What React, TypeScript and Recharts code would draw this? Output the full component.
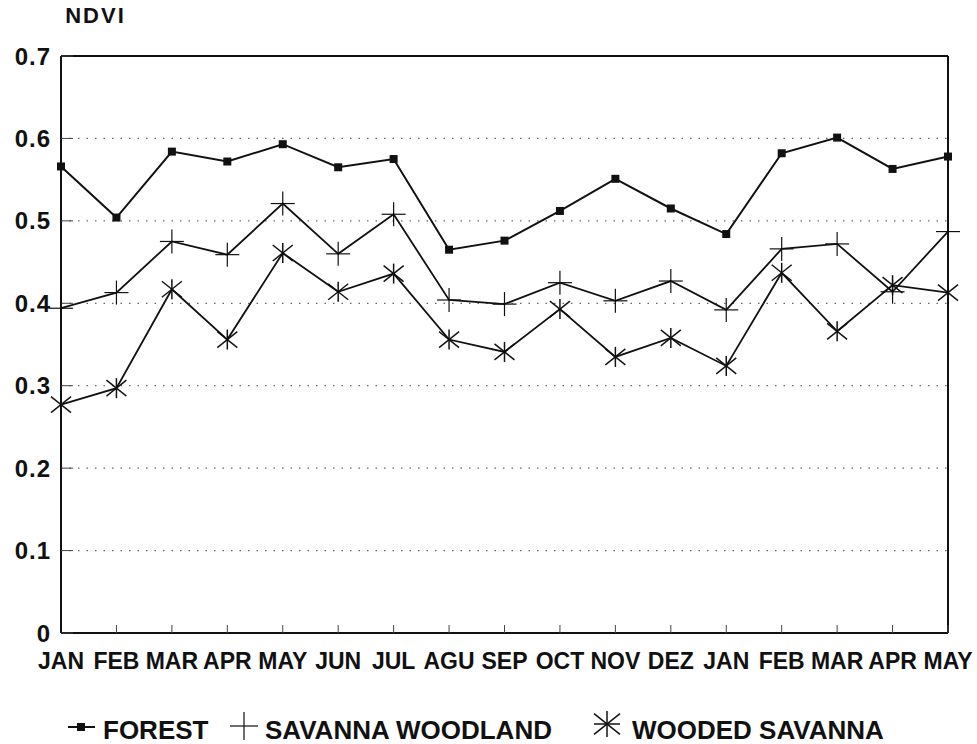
import React from 'react';
import { LineChart, Line, XAxis, YAxis, CartesianGrid, ReferenceLine, Legend, Label } from 'recharts';

const months = ['JAN', 'FEB', 'MAR', 'APR', 'MAY', 'JUN', 'JUL', 'AGU', 'SEP', 'OCT', 'NOV', 'DEZ', 'JAN', 'FEB', 'MAR', 'APR', 'MAY'];
const forest = [0.566, 0.504, 0.584, 0.572, 0.593, 0.565, 0.575, 0.465, 0.476, 0.512, 0.551, 0.515, 0.484, 0.582, 0.601, 0.563, 0.578];
const savannaWoodland = [0.394, 0.413, 0.475, 0.459, 0.521, 0.460, 0.508, 0.404, 0.399, 0.425, 0.403, 0.427, 0.392, 0.466, 0.472, 0.414, 0.487];
const woodedSavanna = [0.277, 0.297, 0.417, 0.356, 0.461, 0.414, 0.436, 0.356, 0.341, 0.393, 0.335, 0.358, 0.324, 0.437, 0.366, 0.422, 0.413];
const yTicks = [0, 0.1, 0.2, 0.3, 0.4, 0.5, 0.6, 0.7];
const seriesNames = ['FOREST', 'SAVANNA WOODLAND', 'WOODED SAVANNA'];
const yTitle = 'NDVI';

const data = months.map((m, i) => ({
  idx: i,
  month: m,
  forest: forest[i],
  savannaWoodland: savannaWoodland[i],
  woodedSavanna: woodedSavanna[i],
}));

const FONT = '"Liberation Sans", Arial, Helvetica, sans-serif';
const INK = '#111';

const SquareMark = ({ cx, cy, s = 8 }: any) => (
  <rect x={cx - s / 2} y={cy - s / 2} width={s} height={s} fill={INK} />
);
const PlusMark = ({ cx, cy, s = 12 }: any) => (
  <g stroke={INK} strokeWidth={1.2}>
    <line x1={cx - s} y1={cy} x2={cx + s} y2={cy} />
    <line x1={cx} y1={cy - s} x2={cx} y2={cy + s} />
  </g>
);
const StarMark = ({ cx, cy, s = 10 }: any) => (
  <g stroke={INK} strokeWidth={1.5}>
    <line x1={cx - s} y1={cy - s * 0.8} x2={cx + s} y2={cy + s * 0.8} />
    <line x1={cx - s} y1={cy + s * 0.8} x2={cx + s} y2={cy - s * 0.8} />
    <line x1={cx} y1={cy - s} x2={cx} y2={cy + s} />
  </g>
);

const legendText = { fontFamily: FONT, fontWeight: 'bold' as const, fontSize: 26, fill: INK };

const renderLegend = () => (
  <div style={{ width: 977, height: 70 }}>
    <svg width={977} height={70}>
      <g>
        <line x1={68} y1={53} x2={95} y2={53} stroke={INK} strokeWidth={2} />
        <SquareMark cx={81} cy={53} s={8} />
        <text x={103} y={65} style={legendText}>{seriesNames[0]}</text>
      </g>
      <g>
        <PlusMark cx={244} cy={52} s={14} />
        <text x={265} y={65} style={legendText}>{seriesNames[1]}</text>
      </g>
      <g>
        <StarMark cx={607} cy={50} s={13} />
        <line x1={594} y1={50} x2={620} y2={50} stroke={INK} strokeWidth={1.5} />
        <text x={632} y={65} style={legendText}>{seriesNames[2]}</text>
      </g>
    </svg>
  </div>
);

export default function App() {
  return (
    <div style={{ position: 'absolute', left: 0, top: 0, width: 977, height: 744, background: '#fff' }}>
      <LineChart width={977} height={744} data={data} margin={{ top: 56, right: 29, left: 0, bottom: 1 }}>
        <CartesianGrid vertical={false} stroke="#666" strokeWidth={1.2} strokeDasharray="1.5 7" />
        <XAxis
          dataKey="idx"
          type="category"
          interval={0}
          height={40}
          tickFormatter={(i: number) => months[i]}
          tickSize={-8}
          tickMargin={28}
          tickLine={{ stroke: '#444', strokeWidth: 1 }}
          axisLine={{ stroke: INK, strokeWidth: 2 }}
          tick={{ fill: INK, fontSize: 23, fontWeight: 'bold', fontFamily: FONT }}
        />
        <YAxis
          width={61}
          domain={[0, 0.7]}
          ticks={yTicks}
          interval={0}
          tickFormatter={(v: number) => (v === 0 ? '0' : v.toFixed(1))}
          tickSize={-12}
          tickMargin={22}
          tickLine={{ stroke: '#444', strokeWidth: 1 }}
          axisLine={{ stroke: INK, strokeWidth: 2 }}
          tick={{ fill: INK, fontSize: 24, fontWeight: 'bold', fontFamily: FONT, letterSpacing: 1 }}
        >
          <Label
            value={yTitle}
            position="top"
            offset={33}
            dx={65}
            fill={INK}
            fontSize={22}
            fontWeight="bold"
            fontFamily={FONT}
            letterSpacing={2}
          />
        </YAxis>
        <ReferenceLine y={0.7} stroke={INK} strokeWidth={2} />
        <ReferenceLine x={16} stroke={INK} strokeWidth={2} />
        <Legend verticalAlign="bottom" content={renderLegend} wrapperStyle={{ left: 0, bottom: 0, width: 977 }} />
        <Line
          dataKey="forest"
          name={seriesNames[0]}
          stroke={INK}
          strokeWidth={2}
          isAnimationActive={false}
          dot={(p: any) => <SquareMark key={`f${p.index}`} cx={p.cx} cy={p.cy} />}
        />
        <Line
          dataKey="savannaWoodland"
          name={seriesNames[1]}
          stroke={INK}
          strokeWidth={1.8}
          isAnimationActive={false}
          dot={(p: any) => <PlusMark key={`s${p.index}`} cx={p.cx} cy={p.cy} />}
        />
        <Line
          dataKey="woodedSavanna"
          name={seriesNames[2]}
          stroke={INK}
          strokeWidth={1.8}
          isAnimationActive={false}
          dot={(p: any) => <StarMark key={`w${p.index}`} cx={p.cx} cy={p.cy} />}
        />
      </LineChart>
    </div>
  );
}
